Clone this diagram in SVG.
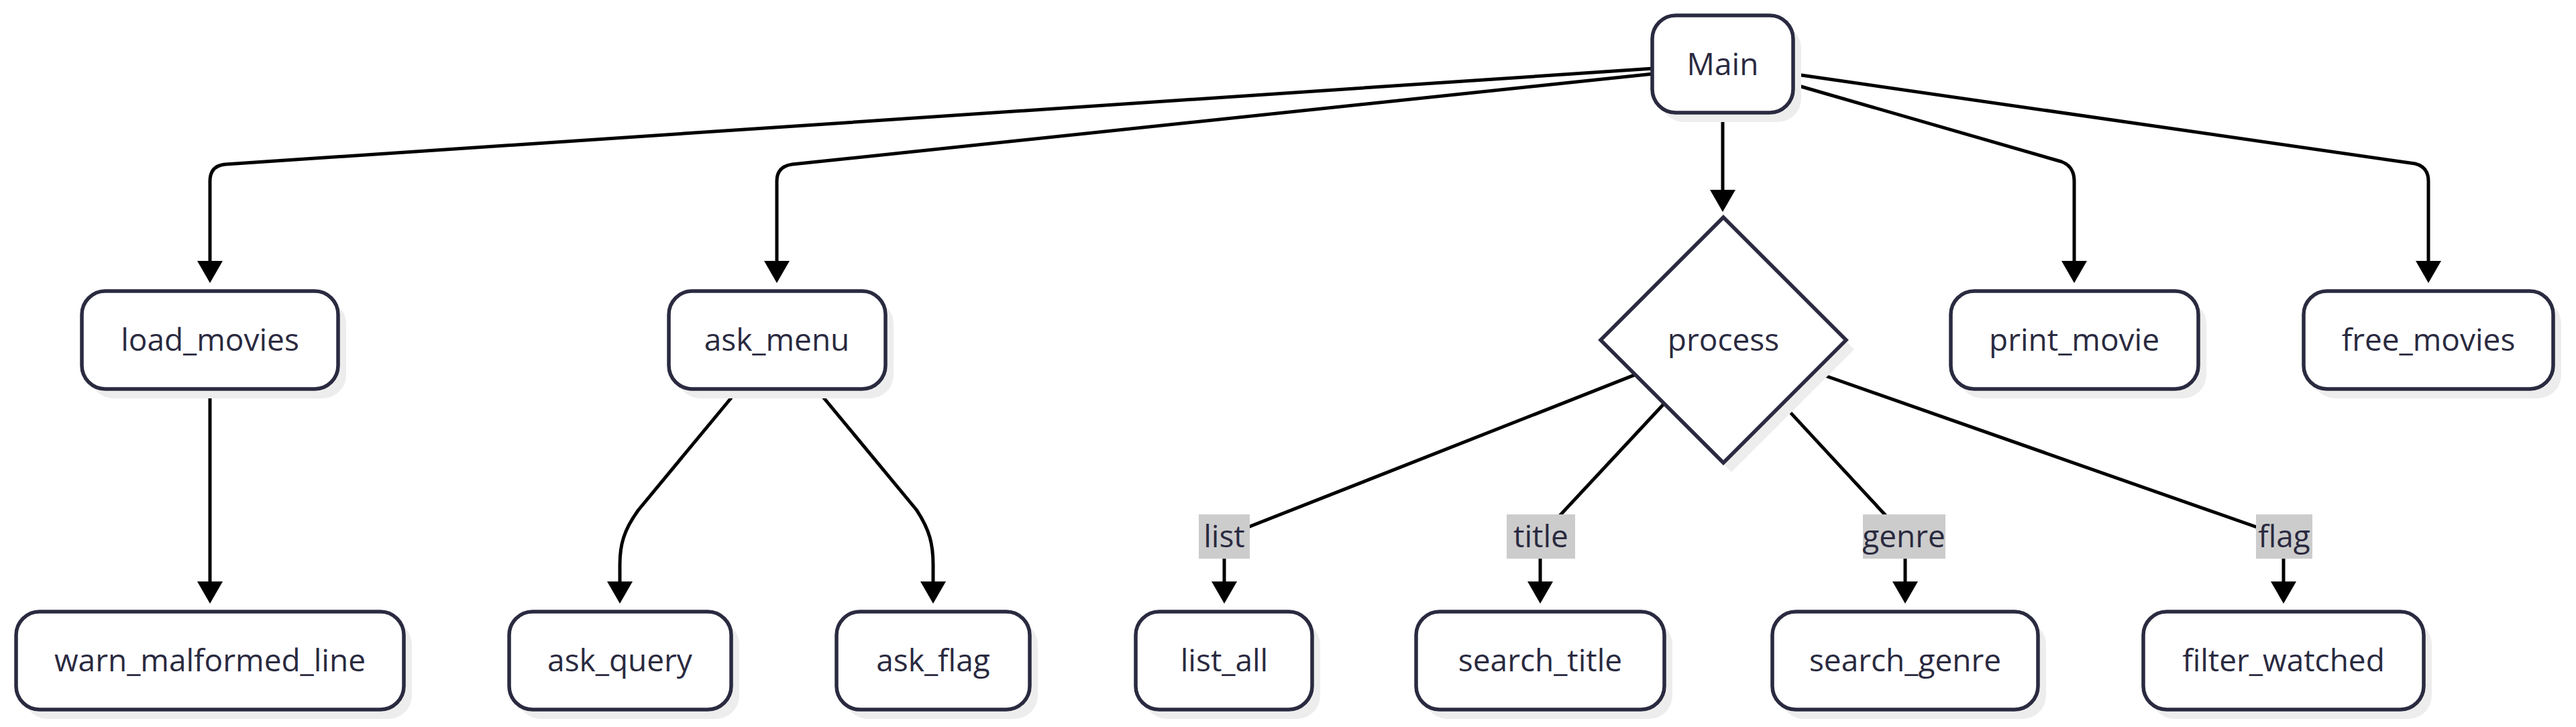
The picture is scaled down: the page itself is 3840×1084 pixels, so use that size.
<svg xmlns="http://www.w3.org/2000/svg" width="3840" height="1084" viewBox="0 0 3840 1084">
<style>
  .bg { fill: #ffffff; }
  .shadow { fill: #ededed; }
  .box { fill: #ffffff; stroke: #2a2a40; stroke-width: 5.5; }
  .lbl { font-family: "Open Sans", "Noto Sans", "Liberation Sans", sans-serif; font-size: 46px; fill: #2a2a40; text-anchor: middle; }
  .edge { fill: none; stroke: #000000; stroke-width: 5; stroke-linejoin: round; }
  .elbg { fill: #cccccc; }
</style>
<defs>
  <marker id="arrow" markerUnits="userSpaceOnUse" markerWidth="34" markerHeight="40" refX="0" refY="19" orient="auto">
    <path d="M0,0 L33,19 L0,38 z" fill="#000000"/>
  </marker>
</defs>
<rect class="bg" x="0" y="0" width="3840" height="1084"/>

<g id="connectors">
  <path class="edge" d="M2465,102 L336,245 Q313,247 313,270 L313,389" marker-end="url(#arrow)"/>
  <path class="edge" d="M2465,110 L1181,245 Q1158,248 1158,270 L1158,389" marker-end="url(#arrow)"/>
  <path class="edge" d="M2568,168 L2568,283" marker-end="url(#arrow)"/>
  <path class="edge" d="M2671,125 L3073,241 Q3092,248 3092,270 L3092,389" marker-end="url(#arrow)"/>
  <path class="edge" d="M2671,110 L3600,244 Q3620,249 3620,270 L3620,389" marker-end="url(#arrow)"/>
  <path class="edge" d="M313,580 L313,867" marker-end="url(#arrow)"/>
  <path class="edge" d="M1101,580 L952,760 C930,790 924,812 924,842 L924,867" marker-end="url(#arrow)"/>
  <path class="edge" d="M1217,580 L1366,760 C1386,790 1391,812 1391,842 L1391,867" marker-end="url(#arrow)"/>
  <path class="edge" d="M2437.7,558.7 L1825,800 L1825,867" marker-end="url(#arrow)"/>
  <path class="edge" d="M2480.7,601.7 L2296,800 L2296,867" marker-end="url(#arrow)"/>
  <path class="edge" d="M2656.9,602.1 L2840,800 L2840,867" marker-end="url(#arrow)"/>
  <path class="edge" d="M2704.5,554.5 L3404,800 L3404,867" marker-end="url(#arrow)"/>
</g>

<g id="edge-labels">
  <g id="label-list"><rect class="elbg" x="1787" y="767" width="76" height="66"/><text class="lbl" x="1825" y="816">list</text></g>
  <g id="label-title"><rect class="elbg" x="2246" y="767" width="102" height="66"/><text class="lbl" x="2297" y="816">title</text></g>
  <g id="label-genre"><rect class="elbg" x="2777" y="767" width="123" height="66"/><text class="lbl" x="2838" y="816">genre</text></g>
  <g id="label-flag"><rect class="elbg" x="3363" y="767" width="84" height="66"/><text class="lbl" x="3405" y="816">flag</text></g>
</g>

<g id="node-main">
  <rect class="shadow" x="2475" y="37" width="210" height="145" rx="35"/>
  <rect class="box" x="2463" y="23" width="210" height="145" rx="35"/>
  <text class="lbl" x="2568" y="112">Main</text>
</g>
<g id="node-load_movies">
  <rect class="shadow" x="134" y="448" width="382" height="146" rx="35"/>
  <rect class="box" x="122" y="434" width="382" height="146" rx="35"/>
  <text class="lbl" x="313" y="523">load_movies</text>
</g>
<g id="node-ask_menu">
  <rect class="shadow" x="1009" y="448" width="323" height="146" rx="35"/>
  <rect class="box" x="997" y="434" width="323" height="146" rx="35"/>
  <text class="lbl" x="1158" y="523">ask_menu</text>
</g>
<g id="node-process">
  <polygon class="shadow" points="2581,338 2764,521 2581,704 2398,521"/>
  <polygon class="box" points="2569,324 2752,507 2569,690 2386,507"/>
  <text class="lbl" x="2569" y="523">process</text>
</g>
<g id="node-print_movie">
  <rect class="shadow" x="2920" y="448" width="369" height="146" rx="35"/>
  <rect class="box" x="2908" y="434" width="369" height="146" rx="35"/>
  <text class="lbl" x="3092" y="523">print_movie</text>
</g>
<g id="node-free_movies">
  <rect class="shadow" x="3446" y="448" width="372" height="146" rx="35"/>
  <rect class="box" x="3434" y="434" width="372" height="146" rx="35"/>
  <text class="lbl" x="3620" y="523">free_movies</text>
</g>
<g id="node-warn_malformed_line">
  <rect class="shadow" x="36" y="926" width="578" height="146" rx="35"/>
  <rect class="box" x="24" y="912" width="578" height="146" rx="35"/>
  <text class="lbl" x="313" y="1001">warn_malformed_line</text>
</g>
<g id="node-ask_query">
  <rect class="shadow" x="771" y="926" width="331" height="146" rx="35"/>
  <rect class="box" x="759" y="912" width="331" height="146" rx="35"/>
  <text class="lbl" x="924" y="1001">ask_query</text>
</g>
<g id="node-ask_flag">
  <rect class="shadow" x="1259" y="926" width="288" height="146" rx="35"/>
  <rect class="box" x="1247" y="912" width="288" height="146" rx="35"/>
  <text class="lbl" x="1391" y="1001">ask_flag</text>
</g>
<g id="node-list_all">
  <rect class="shadow" x="1705" y="926" width="263" height="146" rx="35"/>
  <rect class="box" x="1693" y="912" width="263" height="146" rx="35"/>
  <text class="lbl" x="1825" y="1001">list_all</text>
</g>
<g id="node-search_title">
  <rect class="shadow" x="2123" y="926" width="370" height="146" rx="35"/>
  <rect class="box" x="2111" y="912" width="370" height="146" rx="35"/>
  <text class="lbl" x="2296" y="1001">search_title</text>
</g>
<g id="node-search_genre">
  <rect class="shadow" x="2654" y="926" width="396" height="146" rx="35"/>
  <rect class="box" x="2642" y="912" width="396" height="146" rx="35"/>
  <text class="lbl" x="2840" y="1001">search_genre</text>
</g>
<g id="node-filter_watched">
  <rect class="shadow" x="3207" y="926" width="418" height="146" rx="35"/>
  <rect class="box" x="3195" y="912" width="418" height="146" rx="35"/>
  <text class="lbl" x="3404" y="1001">filter_watched</text>
</g>
</svg>
